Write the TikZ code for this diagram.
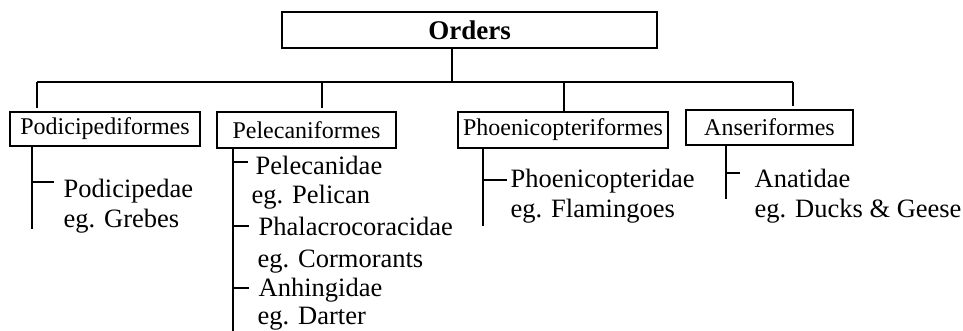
\documentclass[tikz,border=0pt]{standalone}
\usepackage{fontspec}
\setmainfont{Liberation Serif}
\begin{document}
\begin{tikzpicture}[x=1pt,y=-1pt,line width=1.4pt,
  orderbox/.style={draw,rectangle,inner sep=0pt,font=\fontsize{24}{28}\selectfont},
  family/.style={anchor=base west,inner sep=0pt,font=\fontsize{26.5}{30}\selectfont},
  drop/.style={shorten >=3pt}]
\useasboundingbox (0,0) rectangle (963,331);

% top box
\node[draw,rectangle,inner sep=0pt,minimum width=375pt,minimum height=36pt,
      font=\fontsize{27}{30}\selectfont\bfseries] (orders) at (469.5,30) {Orders};

% order boxes
\node[orderbox,minimum width=190pt,minimum height=34pt] (podi) at (105,129) {Podicipediformes};
\node[orderbox,minimum width=179pt,minimum height=36pt] (pele) at (306.5,130) {Pelecaniformes};
\node[orderbox,minimum width=210pt,minimum height=36pt] (phoe) at (563,130) {Phoenicopteriformes};
\node[orderbox,minimum width=167pt,minimum height=35pt] (anse) at (769.5,127.5) {Anseriformes};

% horizontal bus
\coordinate (busL) at (37,82);
\coordinate (busR) at (793,82);
\coordinate (ordersFoot) at (452,48);
\coordinate (busC) at (ordersFoot |- busL);
\draw (ordersFoot) -- (busC);
\draw (busL) -- (busR);
\draw[drop] (busL) -- (busL |- podi.north);
\coordinate (dPele) at (322,82);
\draw[drop] (dPele) -- (dPele |- pele.north);
\coordinate (dPhoe) at (564,82);
\draw (dPhoe) -- (dPhoe |- phoe.north);
\draw[drop] (busR) -- (busR |- anse.north);

% Podicipediformes
\coordinate (podiTop) at (32,146);
\coordinate (podiEnd) at (32,229);
\draw (podiTop) -- (podiEnd);
\coordinate (podiT1) at (32,182);
\node[family] (podicipedae) at (63,197) {Podicipedae};
\node[family] (grebes) at (63,227) {eg. Grebes};
\draw (podiT1) -- ++(22,0);

% Pelecaniformes
\coordinate (peleTop) at (233,148);
\coordinate (peleEnd) at (233,331);
\draw (peleTop) -- (peleEnd);
\node[family] (pelecanidae) at (255,175) {Pelecanidae};
\node[family] (pelican) at (251,204) {eg. Pelican};
\node[family] (phalacro) at (258,235) {Phalacrocoracidae};
\node[family] (cormorants) at (257,267) {eg. Cormorants};
\node[family] (anhingidae) at (258,296) {Anhingidae};
\node[family] (darter) at (257,324) {eg. Darter};
\coordinate (peleT1) at (233,162);
\coordinate (peleT2) at (233,226);
\coordinate (peleT3) at (233,288);
\draw (peleT1) -- ++(15,0);
\draw (peleT2) -- ++(16,0);
\draw (peleT3) -- ++(16,0);

% Phoenicopteriformes
\coordinate (phoeTop) at (483,148);
\coordinate (phoeEnd) at (483,226);
\draw (phoeTop) -- (phoeEnd);
\coordinate (phoeT1) at (483,180);
\draw (phoeT1) -- ++(24,0);
\node[family] (phoenico) at (510,188) {Phoenicopteridae};
\node[family] (flamingoes) at (510,218) {eg. Flamingoes};

% Anseriformes
\coordinate (anseTop) at (726,145);
\coordinate (anseEnd) at (726,199);
\draw (anseTop) -- (anseEnd);
\coordinate (anseT1) at (726,173);
\draw (anseT1) -- ++(14,0);
\node[family] (anatidae) at (754,188) {Anatidae};
\node[family] (ducks) at (754,217) {eg. Ducks \& Geese};
\end{tikzpicture}
\end{document}
